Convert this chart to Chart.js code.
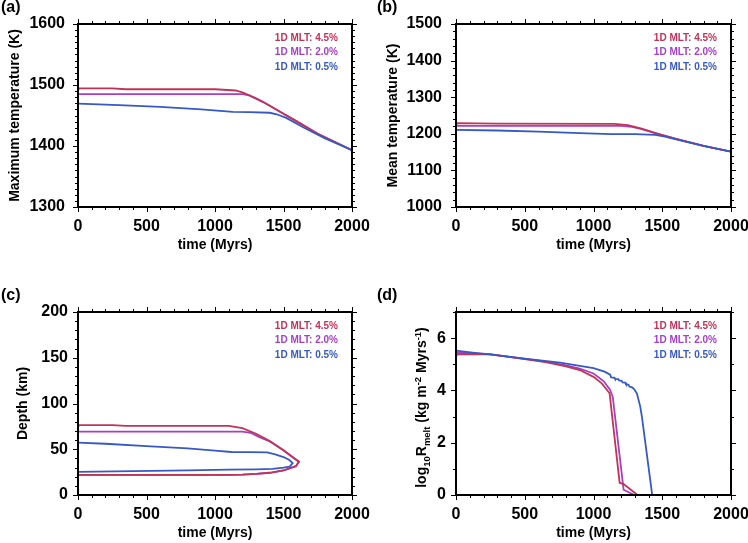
<!DOCTYPE html>
<html>
<head>
<meta charset="utf-8">
<script src="https://cdn.jsdelivr.net/npm/chart.js@4.4.1/dist/chart.umd.min.js"></script>
<style>
  html, body { margin: 0; padding: 0; background: #fff; }
  #wrap { position: relative; width: 748px; height: 543px; overflow: hidden; }
  canvas { position: absolute; }
</style>
</head>
<body>
<div id="wrap">
  <canvas id="panelA" width="374" height="255" style="left:0;top:0"></canvas>
  <canvas id="panelB" width="374" height="255" style="left:374px;top:0"></canvas>
  <canvas id="panelC" width="374" height="255" style="left:0;top:288px"></canvas>
  <canvas id="panelD" width="374" height="255" style="left:374px;top:288px"></canvas>
</div>
<script>
// --- series names / colours ---
const seriesLabels = ['1D MLT: 4.5%', '1D MLT: 2.0%', '1D MLT: 0.5%'];
const seriesColors = ['#bf3458', '#a43fc6', '#3659c4'];

// --- (a) maximum temperature (K) vs time (Myrs) ---
const maxT45_t = [0, 8, 250, 350, 1000, 1150, 1200, 1250, 1300, 1350, 1400, 1500, 1600, 1750, 2000];
const maxT45_v = [1491, 1494.5, 1494.5, 1493, 1493, 1491, 1488, 1483, 1478, 1472.5, 1466, 1453, 1440, 1420, 1393];
const maxT20_t = [0, 1200, 1250, 1300, 1350, 1400, 1500, 1600, 1750, 2000];
const maxT20_v = [1485, 1485, 1483, 1477.5, 1472, 1466, 1453, 1440, 1420, 1393];
const maxT05_t = [0, 300, 600, 900, 1130, 1250, 1400, 1450, 1520, 1650, 1800, 2000];
const maxT05_v = [1469.5, 1467, 1464, 1460, 1456, 1455.5, 1454.5, 1452, 1446, 1430, 1413, 1393];

// --- (b) mean temperature (K) ---
const meanT45_t = [0, 8, 300, 1150, 1250, 1350, 1450, 1600, 1800, 2000];
const meanT45_v = [1224, 1229, 1228, 1227, 1224, 1214, 1202, 1186, 1167, 1151];
const meanT20_t = [0, 1200, 1280, 1350, 1450, 1600, 1800, 2000];
const meanT20_v = [1221.5, 1221.5, 1219, 1213, 1202, 1186, 1167, 1151];
const meanT05_t = [0, 300, 600, 900, 1130, 1300, 1450, 1520, 1600, 1800, 2000];
const meanT05_v = [1210.5, 1209, 1206, 1202, 1199, 1199, 1197, 1192, 1185, 1167, 1151];

// --- (c) depth (km) of the melt region: top edge forward, bottom edge back ---
const depth45_t = [0, 8, 250, 350, 1100, 1200, 1300, 1400, 1500, 1570, 1613, 1590, 1500, 1400, 1300, 1200, 1100, 600, 0];
const depth45_v = [74, 76.3, 76.3, 75.5, 75.5, 73, 67, 59, 49, 41, 36.3, 31.5, 26.8, 24.3, 23, 22.3, 22, 21.9, 21.9];
const depth20_t = [0, 1200, 1260, 1320, 1400, 1500, 1570, 1613, 1590, 1500, 1400, 1300, 1200, 1100, 600, 0];
const depth20_v = [69.3, 69.3, 68, 63.5, 58.5, 49, 41, 36.3, 31.5, 26.8, 24.3, 23, 22.3, 22, 21.9, 21.9];
const depth05_t = [0, 200, 500, 800, 1000, 1120, 1250, 1380, 1440, 1500, 1540, 1567, 1545, 1500, 1420, 1300, 1100, 800, 400, 0];
const depth05_v = [57.2, 56, 53.5, 51, 48.5, 47, 46.8, 46.5, 44.5, 41.5, 38.5, 34.8, 31, 29.8, 28.5, 28, 27.8, 27, 26, 25.2];

// --- (d) log10 Rmelt ---
const rmelt45_t = [0, 10, 250, 500, 650, 800, 900, 1000, 1060, 1117, 1190, 1219, 1320];
const rmelt45_v = [5.3, 5.39, 5.38, 5.2, 5.08, 4.92, 4.78, 4.52, 4.27, 3.89, 0.47, 0.42, 0];
const rmelt20_t = [0, 250, 500, 650, 800, 900, 1000, 1073, 1121, 1140, 1219, 1296];
const rmelt20_v = [5.45, 5.38, 5.21, 5.1, 4.96, 4.83, 4.65, 4.36, 4.02, 3.75, 0.2, 0];
const rmelt05_t = [0, 120, 250, 500, 757, 1000, 1080, 1121, 1128, 1150, 1156, 1180, 1186, 1205, 1211, 1230, 1236, 1255, 1261, 1280, 1295, 1316, 1340, 1352, 1427];
const rmelt05_v = [5.52, 5.45, 5.38, 5.22, 5.06, 4.85, 4.72, 4.6, 4.5, 4.49, 4.44, 4.43, 4.38, 4.37, 4.31, 4.3, 4.24, 4.22, 4.15, 4.12, 4.05, 3.88, 3.38, 3.0, 0];

const FONT = "'Liberation Sans', Arial, Helvetica, sans-serif";
Chart.defaults.font.family = FONT;
Chart.defaults.color = '#000';

function pts(t, v) { return t.map((x, i) => ({ x: x, y: v[i] })); }

// frame with outward ticks on all four sides, legend text and panel tag
const framePlugin = {
  id: 'frame',
  afterDraw(chart, args, o) {
    const { ctx, chartArea: a } = chart;
    const xs = chart.scales.x, ys = chart.scales.y;
    const isMajor = (v, m) => Math.abs(v / m - Math.round(v / m)) < 1e-6;
    ctx.save();
    ctx.strokeStyle = '#000';
    ctx.lineWidth = 1;
    ctx.beginPath();
    const nx = Math.round((xs.max - xs.min) / o.xMinor);
    for (let i = 0; i <= nx; i++) {
      const v = xs.min + i * o.xMinor;
      const px = Math.round(xs.getPixelForValue(v)) + 0.5;
      const len = isMajor(v, o.xMajor) ? 5 : 3;
      ctx.moveTo(px, a.bottom); ctx.lineTo(px, a.bottom + len);
      ctx.moveTo(px, a.top); ctx.lineTo(px, a.top - len);
    }
    const ny = Math.round((ys.max - ys.min) / o.yMinor);
    for (let i = 0; i <= ny; i++) {
      const v = ys.min + i * o.yMinor;
      const py = Math.round(ys.getPixelForValue(v)) + 0.5;
      const len = isMajor(v, o.yMajor) ? 5 : 3;
      ctx.moveTo(a.left, py); ctx.lineTo(a.left - len, py);
      ctx.moveTo(a.right, py); ctx.lineTo(a.right + len, py);
    }
    ctx.stroke();
    ctx.lineWidth = 2;
    ctx.strokeRect(a.left, a.top, a.right - a.left, a.bottom - a.top);

    // legend text (right aligned, inside the frame)
    ctx.font = 'bold 10px ' + FONT;
    ctx.textAlign = 'right';
    ctx.textBaseline = 'middle';
    seriesLabels.forEach((lab, i) => {
      ctx.fillStyle = seriesColors[i];
      ctx.fillText(lab, a.right - 14, a.top + 14 + i * 14.5);
    });

    // panel tag
    ctx.fillStyle = '#000';
    ctx.font = 'bold 16px ' + FONT;
    ctx.textAlign = 'left';
    ctx.fillText(o.tag, o.tagX, 8);

    if (o.rmeltTitle) drawRmeltTitle(ctx, o.rmeltX, (a.top + a.bottom) / 2 + 4);
    ctx.restore();
  }
};

// y title of panel (d) with sub/superscripts
function drawRmeltTitle(ctx, cx, cy) {
  const parts = [
    ['log', 14, 0], ['10', 9.5, 4], ['R', 14, 0], ['melt', 9.5, 4],
    [' (kg m', 14, 0], ['-2', 9.5, -5], [' Myrs', 14, 0], ['-1', 9.5, -5], [')', 14, 0]
  ];
  let total = 0;
  parts.forEach(p => { ctx.font = 'bold ' + p[1] + 'px ' + FONT; total += ctx.measureText(p[0]).width; });
  ctx.save();
  ctx.translate(cx, cy);
  ctx.rotate(-Math.PI / 2);
  ctx.fillStyle = '#000';
  ctx.textAlign = 'left';
  ctx.textBaseline = 'alphabetic';
  let x = -total / 2;
  parts.forEach(p => {
    ctx.font = 'bold ' + p[1] + 'px ' + FONT;
    ctx.fillText(p[0], x, 5 + p[2]);
    x += ctx.measureText(p[0]).width;
  });
  ctx.restore();
}

function makePanel(id, p) {
  const datasets = p.series.map((s, i) => ({
    label: seriesLabels[i],
    data: pts(s[0], s[1]),
    showLine: true,
    borderColor: seriesColors[i],
    backgroundColor: seriesColors[i],
    borderWidth: 1.8,
    pointRadius: 0,
    tension: 0,
    order: [1, 2, 0][i]
  }));
  return new Chart(document.getElementById(id), {
    type: 'scatter',
    data: { datasets },
    options: {
      responsive: false,
      animation: false,
      layout: { padding: { left: 0, top: 24, right: p.padRight, bottom: 0 } },
      plugins: {
        legend: { display: false },
        tooltip: { enabled: false },
        frame: {
          xMinor: 100, xMajor: 500, yMinor: p.yMinor, yMajor: p.yStep,
          tag: p.tag, tagX: p.tagX, rmeltTitle: p.rmeltTitle, rmeltX: 47
        }
      },
      scales: {
        x: {
          type: 'linear', min: 0, max: 2000,
          afterFit: s => { s.height = 48; s.paddingLeft = 0; s.paddingRight = 0; },
          grid: { display: false, drawTicks: false },
          border: { display: false },
          ticks: { stepSize: 500, padding: 10, maxRotation: 0, autoSkip: false,
                   callback: v => String(v), font: { size: 16, weight: 'bold' } },
          title: { display: true, text: 'time (Myrs)', padding: { top: 0, bottom: 1 }, font: { size: 14, weight: 'bold' } }
        },
        y: {
          type: 'linear', min: p.yMin, max: p.yMax,
          afterFit: s => { s.width = p.axisW; s.paddingTop = 0; s.paddingBottom = 0; },
          grid: { display: false, drawTicks: false },
          border: { display: false },
          ticks: { stepSize: p.yStep, includeBounds: false, padding: p.labelPad,
                   callback: v => String(v), font: { size: 16, weight: 'bold' } },
          title: { display: !!p.yTitle, text: p.yTitle || '', padding: { top: p.titlePad, bottom: 0 }, font: { size: 14, weight: 'bold' } }
        }
      }
    },
    plugins: [framePlugin]
  });
}

makePanel('panelA', {
  series: [[maxT45_t, maxT45_v], [maxT20_t, maxT20_v], [maxT05_t, maxT05_v]],
  yMin: 1300, yMax: 1600, yStep: 100, yMinor: 10,
  yTitle: 'Maximum temperature (K)', titlePad: 6.6, labelPad: 13,
  axisW: 78, padRight: 22, tag: '(a)', tagX: 1
});
makePanel('panelB', {
  series: [[meanT45_t, meanT45_v], [meanT20_t, meanT20_v], [meanT05_t, meanT05_v]],
  yMin: 1000, yMax: 1500, yStep: 100, yMinor: 20,
  yTitle: 'Mean temperature (K)', titlePad: 10.6, labelPad: 14,
  axisW: 82, padRight: 17, tag: '(b)', tagX: 3
});
makePanel('panelC', {
  series: [[depth45_t, depth45_v], [depth20_t, depth20_v], [depth05_t, depth05_v]],
  yMin: 0, yMax: 200, yStep: 50, yMinor: 10,
  yTitle: 'Depth (km)', titlePad: 14.6, labelPad: 10,
  axisW: 78, padRight: 22, tag: '(c)', tagX: 1
});
makePanel('panelD', {
  series: [[rmelt45_t, rmelt45_v], [rmelt20_t, rmelt20_v], [rmelt05_t, rmelt05_v]],
  yMin: 0, yMax: 7, yStep: 2, yMinor: 1,
  yTitle: null, rmeltTitle: true, titlePad: 0, labelPad: 10,
  axisW: 82, padRight: 17, tag: '(d)', tagX: 3
});
</script>
</body>
</html>
